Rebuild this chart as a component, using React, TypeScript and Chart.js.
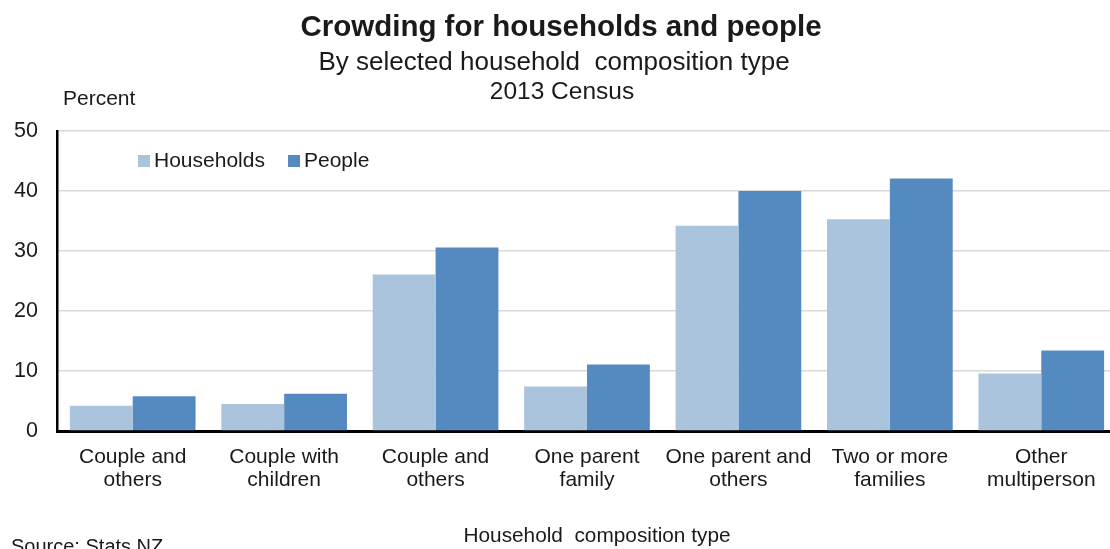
import React, { useEffect, useRef } from "react";
import { Chart, registerables } from "chart.js";

Chart.register(...registerables);

const categories: string[][] = [
  ["Couple and", "others"],
  ["Couple with", "children"],
  ["Couple and", "others"],
  ["One parent", "family"],
  ["One parent and", "others"],
  ["Two or more", "families"],
  ["Other", "multiperson"],
];
const households: number[] = [4.2, 4.5, 26.1, 7.4, 34.2, 35.3, 9.6];
const people: number[] = [5.8, 6.2, 30.6, 11.1, 40.0, 42.1, 13.4];
const seriesNames: string[] = ["Households", "People"];
const seriesColors: string[] = ["#AAC4DE", "#558AC1"];

const titleText = "Crowding for households and people";
const subtitleLines = ["By selected household  composition type", "2013 Census"];
const yAxisTitle = "Percent";
const xAxisTitle = "Household  composition type";
const sourceText = "Source: Stats NZ";

const FONT = "'Liberation Sans', Arial, sans-serif";
const TEXT = "#1a1a1a";

const textPlugin = {
  id: "customText",
  afterDraw(chart: any) {
    const ctx = chart.ctx as CanvasRenderingContext2D;
    ctx.save();
    ctx.fillStyle = TEXT;
    ctx.textBaseline = "alphabetic";
    ctx.textAlign = "center";
    ctx.font = `bold 29.5px ${FONT}`;
    ctx.fillText(titleText, 561, 36);
    ctx.font = `26px ${FONT}`;
    ctx.fillText(subtitleLines[0], 554, 70);
    ctx.font = `24.5px ${FONT}`;
    ctx.fillText(subtitleLines[1], 562, 99);
    ctx.textAlign = "left";
    ctx.font = `21px ${FONT}`;
    ctx.fillText(yAxisTitle, 63, 105);
    ctx.textAlign = "center";
    ctx.font = `20.8px ${FONT}`;
    ctx.fillText(xAxisTitle, 597, 542);
    ctx.textAlign = "left";
    ctx.font = `20px ${FONT}`;
    ctx.fillText(sourceText, 11, 553);
    // legend
    const legendX = [138, 288];
    ctx.font = `21px ${FONT}`;
    seriesNames.forEach((name, i) => {
      ctx.fillStyle = seriesColors[i];
      ctx.fillRect(legendX[i], 155, 12, 12);
      ctx.fillStyle = TEXT;
      ctx.fillText(name, legendX[i] + 16, 167);
    });
    ctx.restore();
  },
};

export default function App() {
  const ref = useRef<HTMLCanvasElement>(null);
  useEffect(() => {
    if (!ref.current) return;
    const chart = new Chart(ref.current, {
      type: "bar",
      data: {
        labels: categories,
        datasets: [
          {
            label: seriesNames[0],
            data: households,
            backgroundColor: seriesColors[0],
            categoryPercentage: 0.83,
            barPercentage: 1.0,
          },
          {
            label: seriesNames[1],
            data: people,
            backgroundColor: seriesColors[1],
            categoryPercentage: 0.83,
            barPercentage: 1.0,
          },
        ],
      },
      options: {
        responsive: false,
        animation: false,
        layout: { padding: { top: 131, left: 0, right: 0, bottom: 0 } },
        plugins: {
          legend: { display: false },
          title: { display: false },
          tooltip: { enabled: false },
        },
        scales: {
          x: {
            grid: { display: false, drawTicks: false },
            border: { display: true, color: "#000", width: 3 },
            ticks: {
              color: TEXT,
              font: { family: FONT, size: 21, lineHeight: 1.08 },
              padding: 15,
              maxRotation: 0,
              autoSkip: false,
            },
            afterFit(scale: any) {
              scale.height = 118;
            },
          },
          y: {
            min: 0,
            max: 50,
            ticks: {
              stepSize: 10,
              color: TEXT,
              font: { family: FONT, size: 21.5 },
              padding: 19,
            },
            grid: { color: "#D9D9D9", lineWidth: 1.5, drawTicks: false },
            border: { display: true, color: "#000", width: 2.5 },
            afterFit(scale: any) {
              scale.width = 57;
            },
          },
        },
      },
      plugins: [textPlugin],
    });
    return () => chart.destroy();
  }, []);
  return (
    <div style={{ position: "fixed", left: 0, top: 0, width: 1110, height: 549, overflow: "hidden", background: "#fff" }}>
      <canvas ref={ref} width={1117} height={549} style={{ display: "block" }} />
    </div>
  );
}
